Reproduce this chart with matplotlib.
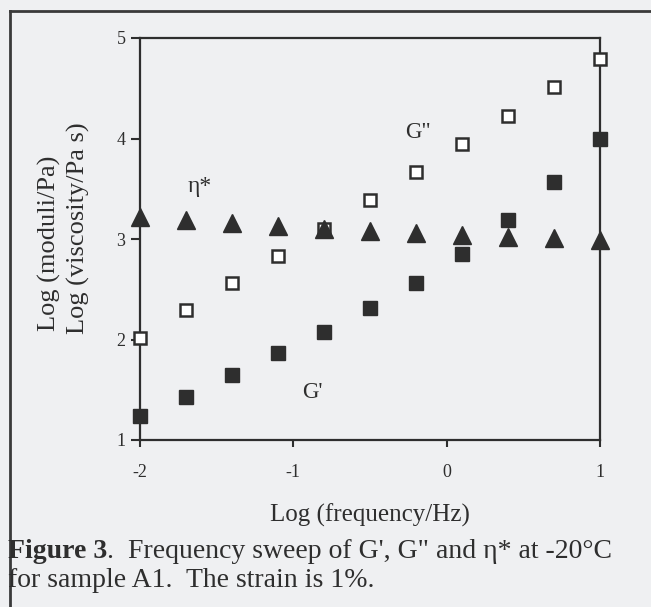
import matplotlib
matplotlib.use("Agg")
import matplotlib.pyplot as plt

plt.rcParams['font.family'] = ['Liberation Serif', 'DejaVu Serif']

# datos (log de frecuencia, log de modulos / viscosidad)
log_freq = [-2.0, -1.7, -1.4, -1.1, -0.8, -0.5, -0.2, 0.1, 0.4, 0.7, 1.0]
g_prima = [1.24, 1.43, 1.65, 1.87, 2.07, 2.31, 2.56, 2.85, 3.19, 3.57, 4.00]
g_doble = [2.01, 2.29, 2.56, 2.83, 3.10, 3.39, 3.67, 3.95, 4.22, 4.51, 4.79]
eta = [3.22, 3.19, 3.16, 3.13, 3.10, 3.08, 3.06, 3.04, 3.02, 3.01, 2.99]
xticks = [-2, -1, 0, 1]
yticks = [1, 2, 3, 4, 5]

PAPEL = '#eff0f2'
TINTA = '#2e2e2e'
W, H = 651, 607

fig = plt.figure(figsize=(W / 100, H / 100), dpi=100, facecolor=PAPEL)
ax = fig.add_axes([140 / W, 1 - 440 / H, 460 / W, 402 / H])
ax.set_facecolor(PAPEL)

ax.plot(log_freq, g_doble, 's', ms=9, mew=1.8, mfc='white', mec=TINTA, clip_on=False, zorder=3)
ax.plot(log_freq, eta, '^', ms=13, color=TINTA, clip_on=False, zorder=4)
ax.plot(log_freq, g_prima, 's', ms=10, color=TINTA, clip_on=False, zorder=5)

ax.set_xlim(-2, 1)
ax.set_ylim(1, 5)
ax.set_xticks(xticks)
ax.set_yticks(yticks)
ax.set_xticklabels(['-2', '-1', '0', '1'])
for s in ax.spines.values():
    s.set_linewidth(1.6)
    s.set_color(TINTA)
ax.tick_params(axis='y', direction='out', length=6.5, width=1.5, pad=4, labelsize=13, colors=TINTA)
ax.tick_params(axis='x', direction='out', length=5, width=1.5, pad=12, labelsize=13, colors=TINTA)

ax.text(-0.27, 4.0, 'G"', fontsize=16.5, color=TINTA)
ax.text(-0.94, 1.42, "G'", fontsize=16.5, color=TINTA)
ax.text(-1.69, 3.47, 'η*', fontsize=17, color=TINTA)

# etiquetas de ejes como texto de figura
fig.text(49 / W, 1 - 331 / H, 'Log (moduli/Pa)', rotation=90, ha='center', va='bottom',
         fontsize=19, color=TINTA)
fig.text(78 / W, 1 - 334 / H, 'Log (viscosity/Pa s)', rotation=90, ha='center', va='bottom',
         fontsize=19, color=TINTA)
fig.text(370 / W, 1 - 522 / H, 'Log (frequency/Hz)', ha='center', va='baseline',
         fontsize=18, color=TINTA)

# pie de figura
r = fig.canvas.get_renderer()
t = fig.text(8 / W, 1 - 558 / H, 'Figure 3', fontweight='bold', fontsize=20, va='baseline', color=TINTA)
bb = t.get_window_extent(renderer=r)
fig.text(bb.x1 / W, 1 - 558 / H, '.  Frequency sweep of G\', G" and η* at -20°C',
         fontsize=20, va='baseline', color=TINTA)
fig.text(8 / W, 1 - 587 / H, 'for sample A1.  The strain is 1%.', fontsize=20, va='baseline', color=TINTA)

# marco escaneado
fig.add_artist(plt.Line2D([10 / W, 10 / W], [0, 1 - 11 / H], color='#3a3a3a', lw=2))
fig.add_artist(plt.Line2D([10 / W, 1], [1 - 11 / H, 1 - 11 / H], color='#3a3a3a', lw=2))

fig.savefig('out.png', dpi=100, facecolor=PAPEL)
